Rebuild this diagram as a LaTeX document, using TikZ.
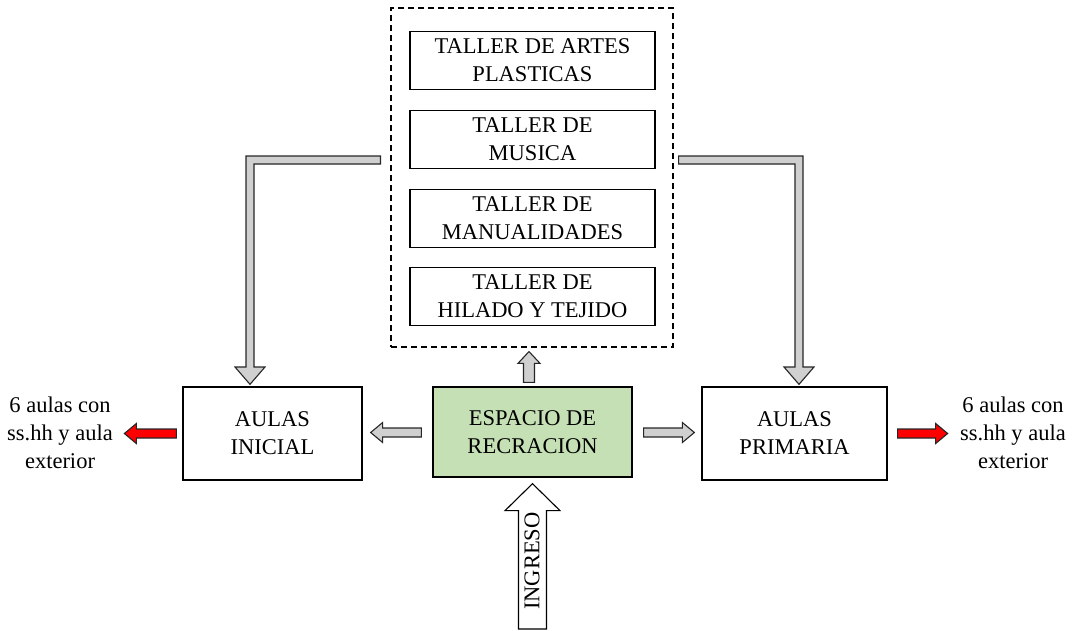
\documentclass[tikz,border=0pt]{standalone}
\usepackage{fontspec}
\setmainfont{Liberation Serif}
\usetikzlibrary{calc}
\definecolor{boxgreen}{HTML}{C5E0B4}
\definecolor{arrgray}{HTML}{D0D0D0}
\definecolor{arrred}{HTML}{FF0000}
\begin{document}
\begin{tikzpicture}[x=1pt,y=-1pt,
  every node/.style={font=\fontsize{22.5}{28}\selectfont},
  boxnode/.style={draw=black, line width=1.3pt, align=center, inner sep=0pt},
  tallerbox/.style={boxnode, minimum width=245pt, minimum height=58pt},
  mainbox/.style={boxnode, minimum height=93pt},
  grayarrow/.style={draw=black!85, line width=1.1pt, fill=arrgray, line join=miter},
  redarrow/.style={draw=black!85, line width=1.1pt, fill=arrred, line join=miter},
  whitearrow/.style={draw=black, line width=1.1pt, fill=white, line join=miter},
  sidetext/.style={align=center, inner sep=0pt}
]
\useasboundingbox (0,0) rectangle (1080,630);

% dashed container and workshops
\node[draw, dash pattern=on 6pt off 4pt, line width=1.1pt, minimum width=282pt, minimum height=339pt, inner sep=0pt] (talleres) at (532,177.5) {};
\node[tallerbox] (t1) at (532.5,60.5) {TALLER DE ARTES\\PLASTICAS};
\node[tallerbox] (t2) at (532.5,139.5) {TALLER DE\\MUSICA};
\node[tallerbox] (t3) at (532.5,218.5) {TALLER DE\\MANUALIDADES};
\node[tallerbox] (t4) at (532.5,296.5) {TALLER DE\\HILADO Y TEJIDO};

% main boxes
\node[mainbox, minimum width=179pt] (ini) at (272.5,433.5) {AULAS\\INICIAL};
\node[boxnode, fill=boxgreen, minimum width=199pt, minimum height=90pt] (esp) at (532.5,432) {ESPACIO DE\\RECRACION};
\node[mainbox, minimum width=185pt] (pri) at (794.5,433.5) {AULAS\\PRIMARIA};

% side texts
\node[sidetext] (lt) at (60,433) {6 aulas con\\ss.hh y aula\\exterior};
\node[sidetext] (rt) at (1013,433) {6 aulas con\\ss.hh y aula\\exterior};

% bent arrow left: from dashed box to AULAS INICIAL
\coordinate (Ls) at ($(talleres.west)+(-10,0)$);
\coordinate (Lt) at ($(ini.north)+(-22.5,-2)$);
\draw[grayarrow] (Ls |- 0,156) -- (246,156) -- (246,367) -- (235,367) -- (Lt) -- (265,367) -- (254,367) -- (254,164) -- (Ls |- 0,164) -- cycle;

% bent arrow right: from dashed box to AULAS PRIMARIA
\coordinate (Rs) at ($(talleres.east)+(5,0)$);
\coordinate (Rt) at ($(pri.north)+(4.5,-2)$);
\draw[grayarrow] (Rs |- 0,156) -- (803,156) -- (803,367) -- (814,367) -- (Rt) -- (784,367) -- (795,367) -- (795,164) -- (Rs |- 0,164) -- cycle;

% small gray arrow up from ESPACIO
\coordinate (ul0) at ($(esp.north)+(-3.5,-4)$);
\coordinate (ul1) at ($(talleres.south)+(0,4)$);
\draw[grayarrow] ($(ul0)+(-5.5,0)$) -- ($(ul0)+(-5.5,-19)$) -- ($(ul0)+(-11,-19)$) -- (ul1 -| ul0) -- ($(ul0)+(11,-19)$) -- ($(ul0)+(5.5,-19)$) -- ($(ul0)+(5.5,0)$) -- cycle;

% small gray arrows left and right
\coordinate (gl0) at ($(esp.west)+(-11,0.5)$);
\coordinate (gl1) at ($(ini.east)+(8,0)$);
\draw[grayarrow] ($(gl0)+(0,-4.5)$) -- ($(gl1 |- gl0)+(12,-4.5)$) -- ($(gl1 |- gl0)+(12,-10)$) -- (gl1 |- gl0) -- ($(gl1 |- gl0)+(12,10)$) -- ($(gl1 |- gl0)+(12,4.5)$) -- ($(gl0)+(0,4.5)$) -- cycle;

\coordinate (gr0) at ($(esp.east)+(11,0.5)$);
\coordinate (gr1) at ($(pri.west)+(-7,0)$);
\draw[grayarrow] ($(gr0)+(0,-4.5)$) -- ($(gr1 |- gr0)+(-12,-4.5)$) -- ($(gr1 |- gr0)+(-12,-10)$) -- (gr1 |- gr0) -- ($(gr1 |- gr0)+(-12,10)$) -- ($(gr1 |- gr0)+(-12,4.5)$) -- ($(gr0)+(0,4.5)$) -- cycle;

% red arrows
\coordinate (rl0) at ($(ini.west)+(-6,0)$);
\coordinate (rl1) at ($(rl0)+(-52,0)$);
\draw[redarrow] ($(rl0)+(0,-4.5)$) -- ($(rl1)+(12,-4.5)$) -- ($(rl1)+(12,-10)$) -- (rl1) -- ($(rl1)+(12,10)$) -- ($(rl1)+(12,4.5)$) -- ($(rl0)+(0,4.5)$) -- cycle;

\coordinate (rr0) at ($(pri.east)+(10,0)$);
\coordinate (rr1) at ($(rr0)+(50,0)$);
\draw[redarrow] ($(rr0)+(0,-4.5)$) -- ($(rr1)+(-12,-4.5)$) -- ($(rr1)+(-12,-10)$) -- (rr1) -- ($(rr1)+(-12,10)$) -- ($(rr1)+(-12,4.5)$) -- ($(rr0)+(0,4.5)$) -- cycle;

% INGRESO arrow
\coordinate (ig1) at ($(esp.south)+(0,6)$);
\coordinate (ig0) at (ig1 |- 0,629);
\draw[whitearrow] ($(ig0)+(-14,0)$) -- ($(ig1)+(-14,27)$) -- ($(ig1)+(-27.5,27)$) -- (ig1) -- ($(ig1)+(27.5,27)$) -- ($(ig1)+(14,27)$) -- ($(ig0)+(14,0)$) -- cycle;
\node[rotate=90, inner sep=0pt] (ingreso) at (532,561) {INGRESO};
\end{tikzpicture}
\end{document}
